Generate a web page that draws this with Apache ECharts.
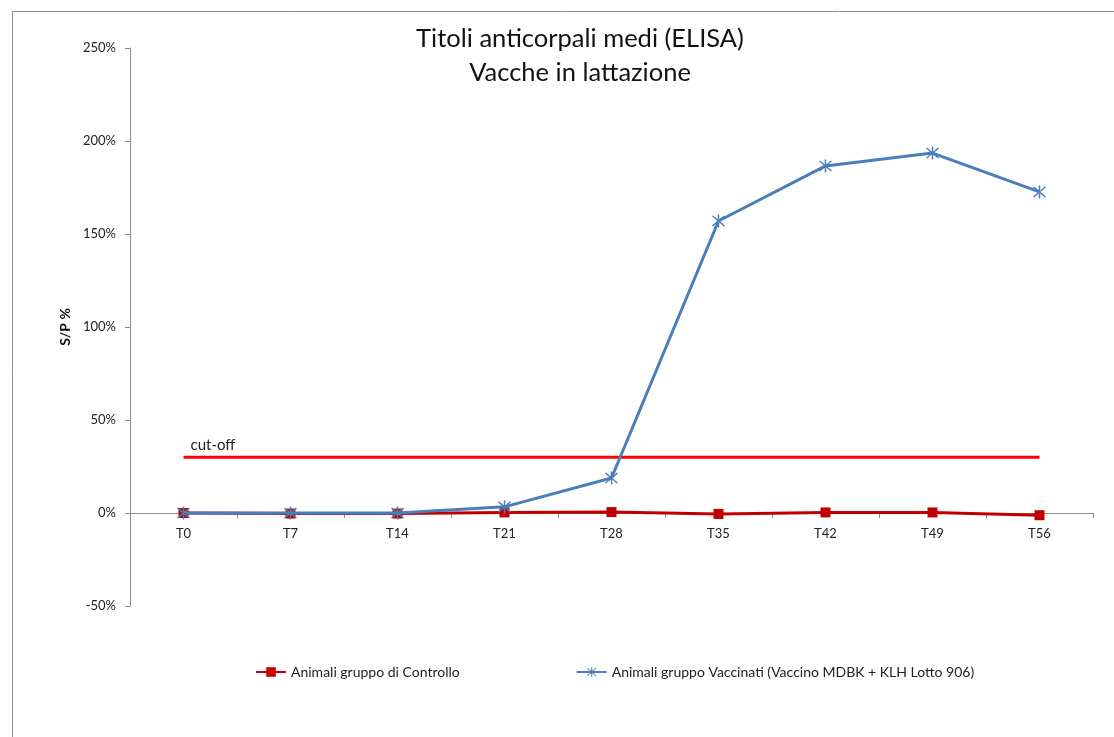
<!DOCTYPE html>
<html>
<head>
<meta charset="utf-8">
<script src="https://cdn.jsdelivr.net/npm/echarts@6/dist/echarts.min.js"></script>
<style>html,body{margin:0;padding:0;background:#fff;}#c{width:1114px;height:737px;}</style>
</head>
<body>
<div id="c"></div>
<script>
const categories = ['T0','T7','T14','T21','T28','T35','T42','T49','T56'];
const controllo = [0, -0.3, -0.3, 0.3, 0.5, -0.5, 0.3, 0.3, -1.2];
const vaccinati = [0, 0, 0, 3.3, 18.8, 157, 186.6, 193.5, 172.6];
const cutoffValue = 30;
const titleLines = ['Titoli anticorpali medi (ELISA)', 'Vacche in lattazione'];
const seriesNames = ['Animali gruppo di Controllo', 'Animali gruppo Vaccinati (Vaccino MDBK + KLH Lotto 906)'];
const cutoffLabel = 'cut-off';

const FONT = 'Lato, "Open Sans", sans-serif';
const asterisk = 'path://M9,0h2v20h-2z M1.5,2.9l1.4,-1.4l15.6,15.6l-1.4,1.4z M18.5,2.9l-1.4,-1.4l-15.6,15.6l1.4,1.4z';

const chart = echarts.init(document.getElementById('c'), null, {renderer: 'canvas'});
const cutoffData = categories.map(() => cutoffValue);

chart.setOption({
  animation: false,
  textStyle: {fontFamily: FONT},
  title: {
    text: titleLines.join('\n'),
    left: 575, textAlign: 'center', top: 17,
    textStyle: {fontSize: 25.5, fontWeight: 'normal', color: '#111', lineHeight: 34, fontFamily: FONT}
  },
  graphic: [{
    type: 'rect', shape: {x: 12.5, y: 11.5, width: 1110, height: 740},
    style: {fill: 'none', stroke: '#8a8a8a', lineWidth: 1}, silent: true
  }],
  legend: {
    left: 250, top: 660, itemGap: 116, itemWidth: 30, itemHeight: 12,
    textStyle: {fontSize: 14, color: '#222', fontFamily: FONT},
    data: seriesNames
  },
  grid: {left: 130, right: 21, top: 48, bottom: 131, containLabel: false},
  xAxis: {
    type: 'category', data: categories, boundaryGap: true,
    offset: -93,
    axisLine: {onZero: false, lineStyle: {color: '#8c8c8c', width: 1}},
    axisTick: {show: true, alignWithLabel: false, length: 5, lineStyle: {color: '#8c8c8c'}},
    axisLabel: {color: '#222', fontSize: 13, margin: 14, fontFamily: FONT},
    splitLine: {show: false}
  },
  yAxis: {
    type: 'value', min: -50, max: 250, interval: 50,
    name: 'S/P %', nameLocation: 'middle', nameGap: 56, nameRotate: 90,
    nameTextStyle: {fontWeight: 'bold', fontSize: 14, color: '#111', fontFamily: FONT},
    axisLine: {show: true, lineStyle: {color: '#8c8c8c'}},
    axisTick: {show: true, length: 5, lineStyle: {color: '#8c8c8c'}},
    axisLabel: {formatter: v => v + '%', color: '#222', fontSize: 13, margin: 14, fontFamily: FONT},
    splitLine: {show: false}
  },
  series: [
    {
      name: 'cutoff', type: 'line', data: cutoffData, symbol: 'none',
      lineStyle: {color: '#ff0000', width: 3}, itemStyle: {color: '#ff0000'}, z: 1, silent: true,
      markPoint: {
        symbol: 'circle', symbolSize: 0, silent: true,
        label: {show: true, formatter: cutoffLabel, position: 'right', offset: [2, -12], color: '#222', fontSize: 15, fontFamily: FONT},
        data: [{coord: [categories[0], cutoffValue]}]
      }
    },
    {
      name: seriesNames[0], type: 'line', data: controllo,
      symbol: 'rect', symbolSize: 10,
      lineStyle: {color: '#c00000', width: 3}, itemStyle: {color: '#c00000'}, z: 2
    },
    {
      name: seriesNames[1], type: 'line', data: vaccinati,
      symbol: asterisk, symbolSize: 13,
      lineStyle: {color: '#4a7ebb', width: 3}, itemStyle: {color: '#4a7ebb'}, z: 3
    }
  ]
});
</script>
</body>
</html>
